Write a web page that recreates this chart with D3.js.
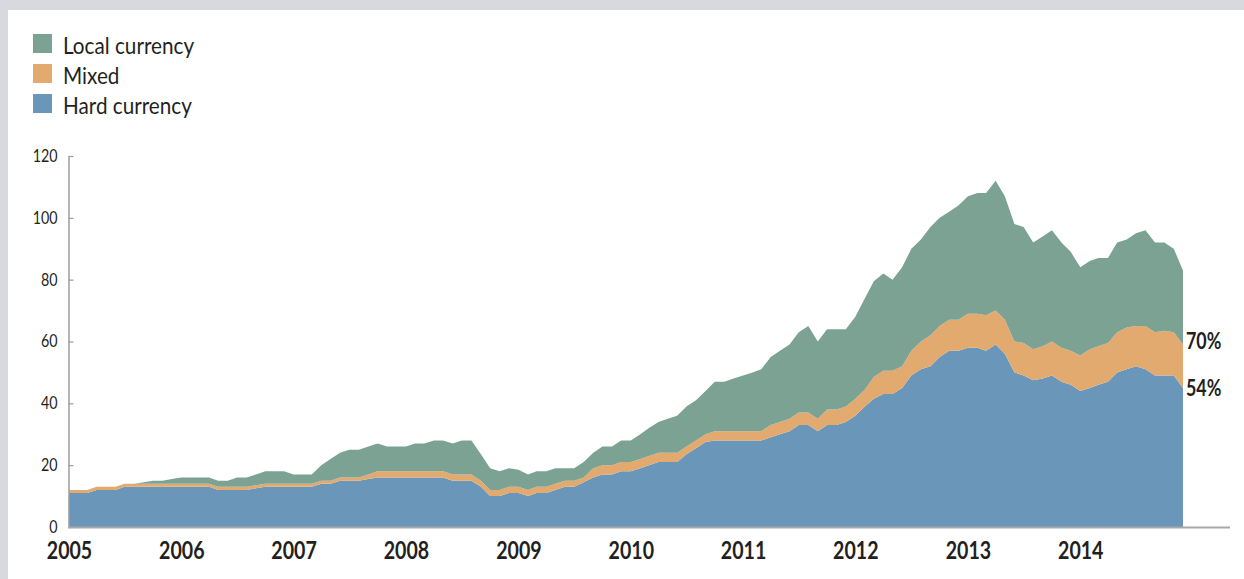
<!DOCTYPE html>
<html>
<head>
<meta charset="utf-8">
<script src="https://cdn.jsdelivr.net/npm/d3@7"></script>
<style>
	html, body { margin: 0; padding: 0; background: #d8d9de; }
	#demo { position: absolute; left: 8px; top: 10px; width: 1236px; height: 569px; background: #ffffff; }
	svg { position: absolute; left: -8px; top: -10px; font-family: "Lato", "Open Sans", sans-serif; }
</style>
</head>
<body>
<div id="demo"></div>
<script>

// monthly series, Jan 2005 - Dec 2014 (USD bn)
var hardValues = [
	11, 11, 11, 12, 12, 12, 13, 13, 13, 13, 13, 13,
	13, 13, 13, 13, 12, 12, 12, 12, 12.5, 13, 13, 13,
	13, 13, 13, 14, 14, 15, 15, 15, 15.5, 16, 16, 16,
	16, 16, 16, 16, 16, 15, 15, 15, 13, 10, 10, 11,
	11, 10, 11, 11, 12, 13, 13, 14.5, 16, 17, 17, 18,
	18, 19, 20, 21, 21, 21, 23.5, 25.5, 27.5, 28, 28, 28,
	28, 28, 28, 29, 30, 31, 33, 33, 31, 33, 33, 34,
	36, 39, 41.5, 43, 43, 45, 49, 51, 52, 55, 57, 57,
	58, 58, 57, 59, 56, 50, 49, 47.5, 48, 49, 47, 46,
	44, 45, 46, 47, 50, 51, 52, 51, 49, 49, 49, 45
];
var mixedValues = [
	1, 1, 1, 1, 1, 1, 1, 1, 1, 1, 1, 1,
	1, 1, 1, 1, 1, 1, 1, 1, 1, 1, 1, 1,
	1, 1, 1, 1, 1, 1, 1, 1, 1.5, 2, 2, 2,
	2, 2, 2, 2, 2, 2, 2, 2, 2, 2, 2, 2,
	2, 2, 2, 2, 2, 2, 2, 1.5, 3, 3, 3, 3,
	3, 3, 3, 3, 3, 3, 2.5, 2.5, 2.5, 3, 3, 3,
	3, 3, 3, 4, 4, 4, 4, 4, 4, 5, 5, 5,
	5.5, 5.5, 7, 7.5, 7.5, 7, 8, 9, 10, 10, 10, 10,
	11, 11, 11.5, 11, 11, 10, 10.5, 10, 10.5, 11, 11, 11,
	11.5, 12.5, 12.5, 12.5, 13, 13.5, 13, 14, 14, 14.5, 14, 14
];
var localValues = [
	0, 0, 0, 0, 0, 0, 0, 0, 0.5, 1, 1, 1.5,
	2, 2, 2, 2, 2, 2, 3, 3, 3.5, 4, 4, 4,
	3, 3, 3, 5, 7, 8, 9, 9, 9, 9, 8, 8,
	8, 9, 9, 10, 10, 10, 11, 11, 8.5, 7, 6, 6,
	5.5, 5, 5, 5, 5, 4, 4, 5, 5, 6, 6, 7,
	7, 8, 9, 10, 11, 12, 13, 13, 14, 16, 16, 17,
	18, 19, 20, 22, 23, 24, 26, 28, 25, 26, 26, 25,
	26.5, 29.5, 31, 31.5, 29.5, 32, 33, 33, 35, 35, 35, 37,
	38, 39, 39.5, 42, 40, 38, 37.5, 34.5, 35.5, 36, 34, 32,
	28.5, 28.5, 28.5, 27.5, 29, 28.5, 30, 31, 29, 28.5, 27, 24
];

var seriesKeys = ['hard', 'mixed', 'local'];
var legendLabels = ['Local currency', 'Mixed', 'Hard currency'];
var legendKeys = ['local', 'mixed', 'hard'];
var yTicks = [0, 20, 40, 60, 80, 100, 120];
var yearLabels = ['2005', '2006', '2007', '2008', '2009', '2010', '2011', '2012', '2013', '2014'];
var endLabels = ['70%', '54%'];

var colors = { local: '#7ca293', mixed: '#e2aa6f', hard: '#6a96b9' };

// table for the stack layout
var months = d3.timeMonth.range(new Date(2005, 0, 1), new Date(2015, 0, 1));
var table = months.map(function(d, i) {
	return { date: d, hard: hardValues[i], mixed: mixedValues[i], local: localValues[i] };
});

var stacked = d3.stack().keys(seriesKeys)(table);

// svg
var svg = d3.select('#demo').append('svg')
	.attr('width', 1244)
	.attr('height', 579);

var x = d3.scaleTime()
	.domain([months[0], months[months.length - 1]])
	.range([69, 1183]);

var y = d3.scaleLinear()
	.domain([0, 120])
	.range([527, 156]);

// squeeze text horizontally to mimic the narrow original face
function squeeze(sel, k) {
	sel.each(function() {
		var w = this.getComputedTextLength();
		d3.select(this)
			.attr('textLength', w * k)
			.attr('lengthAdjust', 'spacingAndGlyphs');
	});
}

// areas
var area = d3.area()
	.x(function(d) { return x(d.data.date); })
	.y0(function(d) { return y(d[0]); })
	.y1(function(d) { return y(d[1]); });

svg.append('g')
	.selectAll('path')
	.data(stacked)
	.enter()
	.append('path')
	.attr('d', area)
	.attr('fill', function(d) { return colors[d.key]; })
	;

// y axis
var yAxis = svg.append('g')
	.attr('transform', 'translate(68.5,0)')
	.call(d3.axisLeft(y).tickValues(yTicks).tickSizeInner(-5).tickSizeOuter(0).tickPadding(11));

yAxis.select('.domain').attr('stroke', '#9c9c9c').attr('stroke-width', 1.5);
yAxis.selectAll('.tick line').attr('stroke', '#9c9c9c').attr('stroke-width', 1.2);
yAxis.selectAll('.tick text')
	.attr('fill', '#231f20')
	.attr('font-size', 17)
	.attr('font-family', 'Lato')
	;
squeeze(yAxis.selectAll('.tick text'), 0.84);

// x axis baseline
svg.append('line')
	.attr('x1', x.range()[0] - 1)
	.attr('x2', 1230)
	.attr('y1', y(0) + 0.5)
	.attr('y2', y(0) + 0.5)
	.attr('stroke', '#a8a8a8')
	.attr('stroke-width', 2)
	;

// year labels
var years = yearLabels.map(function(d) { return new Date(+d, 0, 1); });
var xAxis = svg.append('g')
	.attr('transform', 'translate(0,' + y(0) + ')')
	.call(d3.axisBottom(x).tickValues(years).tickSize(0).tickPadding(15).tickFormat(d3.timeFormat('%Y')));

xAxis.select('.domain').remove();
xAxis.selectAll('.tick text')
	.attr('fill', '#231f20')
	.attr('font-size', 24.5)
	.attr('font-weight', 'bold')
	.attr('font-family', 'Lato')
	;
squeeze(xAxis.selectAll('.tick text'), 0.8);

// end labels
var last = table.length - 1;
var endY = [stacked[1][last][1], stacked[0][last][1]];
var endText = svg.append('g')
	.selectAll('text')
	.data(endLabels)
	.enter()
	.append('text')
	.attr('x', x(months[last]) + 3)
	.attr('y', function(d, i) { return y(endY[i]) + (i === 0 ? 4 : 8); })
	.attr('font-size', 23.5)
	.attr('font-weight', 'bold')
	.attr('fill', '#231f20')
	.text(function(d) { return d; })
	;
squeeze(endText, 0.76);

// legend
var legend = svg.append('g')
	.selectAll('g')
	.data(legendKeys)
	.enter()
	.append('g')
	.attr('transform', function(d, i) { return 'translate(33,' + (34 + i * 30) + ')'; });

legend.append('rect')
	.attr('width', 19)
	.attr('height', 19)
	.attr('fill', function(d) { return colors[d]; })
	;

var legendText = legend.append('text')
	.attr('x', 30)
	.attr('y', 19.5)
	.attr('font-size', 22.5)
	.attr('fill', '#231f20')
	.text(function(d, i) { return legendLabels[i]; })
	;
squeeze(legendText, 0.92);

</script>
</body>
</html>
